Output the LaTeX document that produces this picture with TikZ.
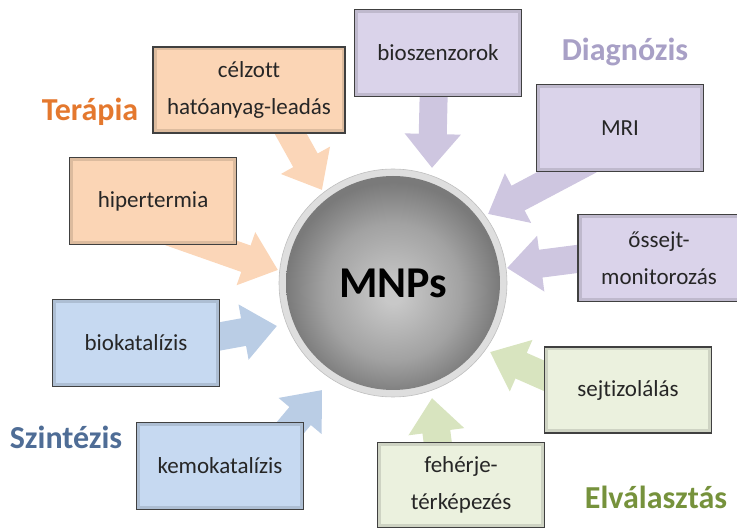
\documentclass[tikz,border=0pt]{standalone}
\usepackage{fontspec}
\setmainfont{Carlito}[Ligatures={NoCommon}]
\usetikzlibrary{arrows.meta}
\definecolor{peachbox}{HTML}{FBD5B5}
\definecolor{peacharr}{HTML}{FBD6B8}
\definecolor{lavbox}{HTML}{DAD3EA}
\definecolor{lavarr}{HTML}{CEC6E0}
\definecolor{bluebox}{HTML}{C6D9F1}
\definecolor{bluearr}{HTML}{BACDE5}
\definecolor{greenbox}{HTML}{EBF1DE}
\definecolor{greenarr}{HTML}{D8E4BF}
\definecolor{txt}{HTML}{262626}
\definecolor{terc}{HTML}{E4782E}
\definecolor{diagc}{HTML}{A8A0C6}
\definecolor{szinc}{HTML}{4F6D96}
\definecolor{elvc}{HTML}{76923C}
\definecolor{ringc}{HTML}{DEDEDE}
\definecolor{bcen}{HTML}{C8C8C8}
\definecolor{bmid}{HTML}{A2A2A2}
\definecolor{bedge}{HTML}{7A7A7A}
\pgfdeclareradialshading{mnpball}{\pgfpoint{0bp}{-3bp}}{color(0bp)=(bcen); color(2bp)=(bcen); color(16bp)=(bmid); color(25bp)=(bedge); color(50bp)=(bedge)}
\tikzset{
  box/.style={rectangle, draw=black!75, line width=1.6pt, text=txt, align=center,
    minimum width=167pt, minimum height=87pt, inner sep=0pt,
    font=\fontsize{23}{37}\selectfont,
    path picture={\draw[line width=7pt, black, opacity=0.12]
      (path picture bounding box.south west) rectangle (path picture bounding box.north east);}},
  bigarrow/.style={line width=28pt, -{Triangle[length=34pt,width=54pt]}},
  grouplabel/.style={font=\fontsize{32}{36}\selectfont\bfseries}
}
\begin{document}
\begin{tikzpicture}[x=1pt,y=-1pt]
\useasboundingbox (0,0) rectangle (737,529);
\clip (0,0) rectangle (737,529);

% coordinates for arrow tips and starts
\coordinate (t1) at (322,190);
\coordinate (t2) at (278,270);
\coordinate (t3) at (277,326);
\coordinate (t4) at (322,390);
\coordinate (t5) at (432,168);
\coordinate (t6) at (488,214);
\coordinate (t7) at (507,268);
\coordinate (t8) at (490,352);
\coordinate (t9) at (432,398);
\coordinate (s1) at (283,120);
\coordinate (s2) at (170,232);
\coordinate (s3) at (200,340);
\coordinate (s4) at (280,440);
\coordinate (s5) at (434,80);
\coordinate (s6) at (590,160);
\coordinate (s7) at (600,256);
\coordinate (s8) at (565,385);
\coordinate (s9) at (440,460);

% arrows
\draw[bigarrow, peacharr] (s1) -- (t1);
\draw[bigarrow, peacharr] (s2) -- (t2);
\draw[bigarrow, bluearr] (s3) -- (t3);
\draw[bigarrow, bluearr] (s4) -- (t4);
\draw[bigarrow, lavarr] (s5) -- (t5);
\draw[bigarrow, lavarr] (s6) -- (t6);
\draw[bigarrow, lavarr] (s7) -- (t7);
\draw[bigarrow, greenarr] (s8) -- (t8);
\draw[bigarrow, greenarr] (s9) -- (t9);

% central sphere
\node[circle, fill=ringc, draw=black!25, line width=0.6pt, minimum size=228pt, inner sep=0pt] (ring) at (393,283) {};
\node[circle, shading=mnpball, minimum size=214pt, inner sep=0pt,
      font=\fontsize{44}{48}\selectfont\bfseries, text=black] (mnp) at (393,283) {MNPs};

% boxes
\node[box, fill=peachbox, minimum width=192pt, minimum height=86pt] (celz) at (249,90) {célzott\\hatóanyag-leadás};
\node[box, fill=peachbox] (hiper) at (153,201) {hipertermia};
\node[box, fill=bluebox] (bioka) at (136,343) {biokatalízis};
\node[box, fill=bluebox] (kemo) at (220,466) {kemokatalízis};
\node[box, fill=lavbox] (bioszen) at (438,53) {bioszenzorok};
\node[box, fill=lavbox] (mri) at (620,128) {MRI};
\node[box, fill=lavbox, minimum width=162pt] (ossejt) at (659,258) {őssejt-\\monitorozás};
\node[box, fill=greenbox, minimum height=86pt] (sejtiz) at (628,390) {sejtizolálás};
\node[box, fill=greenbox, minimum height=85pt] (feher) at (461,485) {fehérje-\\térképezés};

% group labels
\node[grouplabel, text=terc] (terapia) at (90,112) {Terápia};
\node[grouplabel, text=diagc] (diag) at (625,52) {Diagnózis};
\node[grouplabel, text=szinc] (szint) at (66,437) {Szintézis};
\node[grouplabel, text=elvc] (elval) at (656,497) {Elválasztás};
\end{tikzpicture}
\end{document}
